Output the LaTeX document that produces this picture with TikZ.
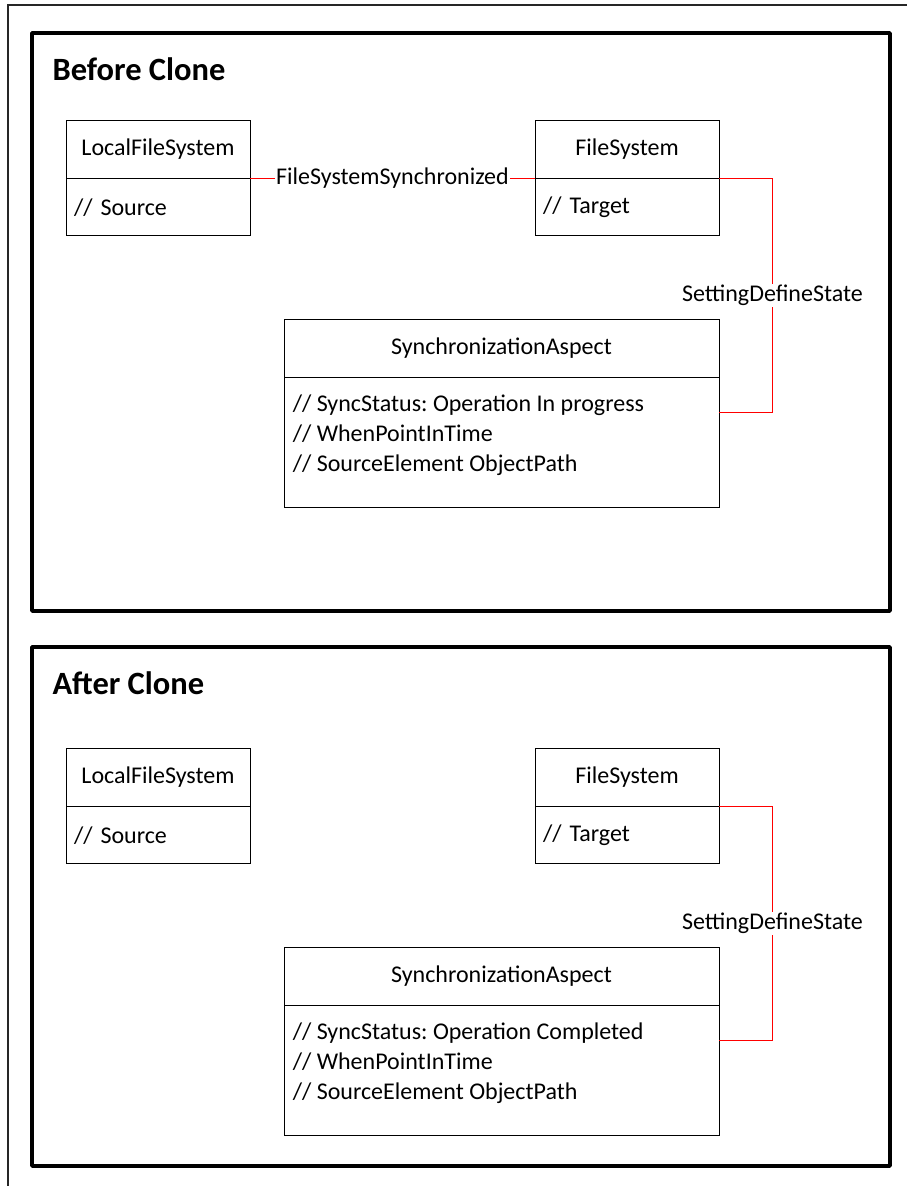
\documentclass[tikz,border=0pt]{standalone}
\usepackage{fontspec}
\setmainfont{Carlito}
\usetikzlibrary{positioning}
\frenchspacing

\tikzset{
  panel/.style={line width=3.5pt, line join=round},
  clshead/.style={draw, line width=0.8pt, minimum height=58pt, inner sep=0pt, font=\fontsize{24}{28}\selectfont},
  clsbody/.style={draw, line width=0.8pt, minimum height=57pt, inner xsep=8pt, inner ysep=0pt, align=left, font=\fontsize{24}{28}\selectfont},
  clsattr/.style={anchor=north west, inner sep=0pt, align=left, font=\fontsize{24}{30}\selectfont},
  assoc/.style={red, line width=0.9pt},
  assoclabel/.style={fill=white, inner sep=1.5pt, text=black, font=\fontsize{24}{28}\selectfont},
  paneltitle/.style={anchor=base west, font=\fontsize{32.5}{36}\selectfont\bfseries},
}

\begin{document}
\begin{tikzpicture}[x=1pt, y=-1pt]
  \useasboundingbox (0,0) rectangle (906,1186);

  % Outer frame
  \draw[line width=1.5pt, black!85] (8,1250) -- (8,5) -- (950,5);

  % Before clone
  \draw[panel] (32,33) rectangle (890,611);
  \node[paneltitle] (before) at (49,80) {Before Clone};
  \node[clshead, minimum width=184pt] (lfs) at (158,149) {LocalFileSystem};
  \node[clsbody, text width=168pt, below=0pt of lfs] (lfsb) {// Source};
  \node[clshead, minimum width=184pt] (fs) at (627,149) {FileSystem};
  \node[clsbody, text width=168pt, below=0pt of fs] (fsb) {// Target};
  \node[clshead, minimum width=435pt] (sa) at (501.5,348) {SynchronizationAspect};
  \node[clsbody, minimum width=435pt, minimum height=130pt, below=0pt of sa] (sab) {};
  \node[clsattr] (saattr) at ([xshift=9pt, yshift=-17pt]sab.north west)
    {// SyncStatus: Operation In progress\\// WhenPointInTime\\// SourceElement ObjectPath};
  \draw[assoc] (lfs.south east) -- node[assoclabel] {FileSystemSynchronized} (fs.south west);
  \draw[assoc] (fs.south east) -- ++(53,0) |- node[assoclabel, pos=0.25] {SettingDefineState}
    ([yshift=-35pt]sab.north east);

  % After clone
  \draw[panel] (32,647) rectangle (890,1166);
  \node[paneltitle] (after) at (49,694) {After Clone};
  \node[clshead, minimum width=184pt] (lfs2) at (158,777) {LocalFileSystem};
  \node[clsbody, text width=168pt, below=0pt of lfs2] (lfsb2) {// Source};
  \node[clshead, minimum width=184pt] (fs2) at (627,777) {FileSystem};
  \node[clsbody, text width=168pt, below=0pt of fs2] (fsb2) {// Target};
  \node[clshead, minimum width=435pt] (sa2) at (501.5,976) {SynchronizationAspect};
  \node[clsbody, minimum width=435pt, minimum height=130pt, below=0pt of sa2] (sab2) {};
  \node[clsattr] (saattr2) at ([xshift=9pt, yshift=-17pt]sab2.north west)
    {// SyncStatus: Operation Completed\\// WhenPointInTime\\// SourceElement ObjectPath};
  \draw[assoc] (fs2.south east) -- ++(53,0) |- node[assoclabel, pos=0.25] {SettingDefineState}
    ([yshift=-35pt]sab2.north east);
\end{tikzpicture}
\end{document}
